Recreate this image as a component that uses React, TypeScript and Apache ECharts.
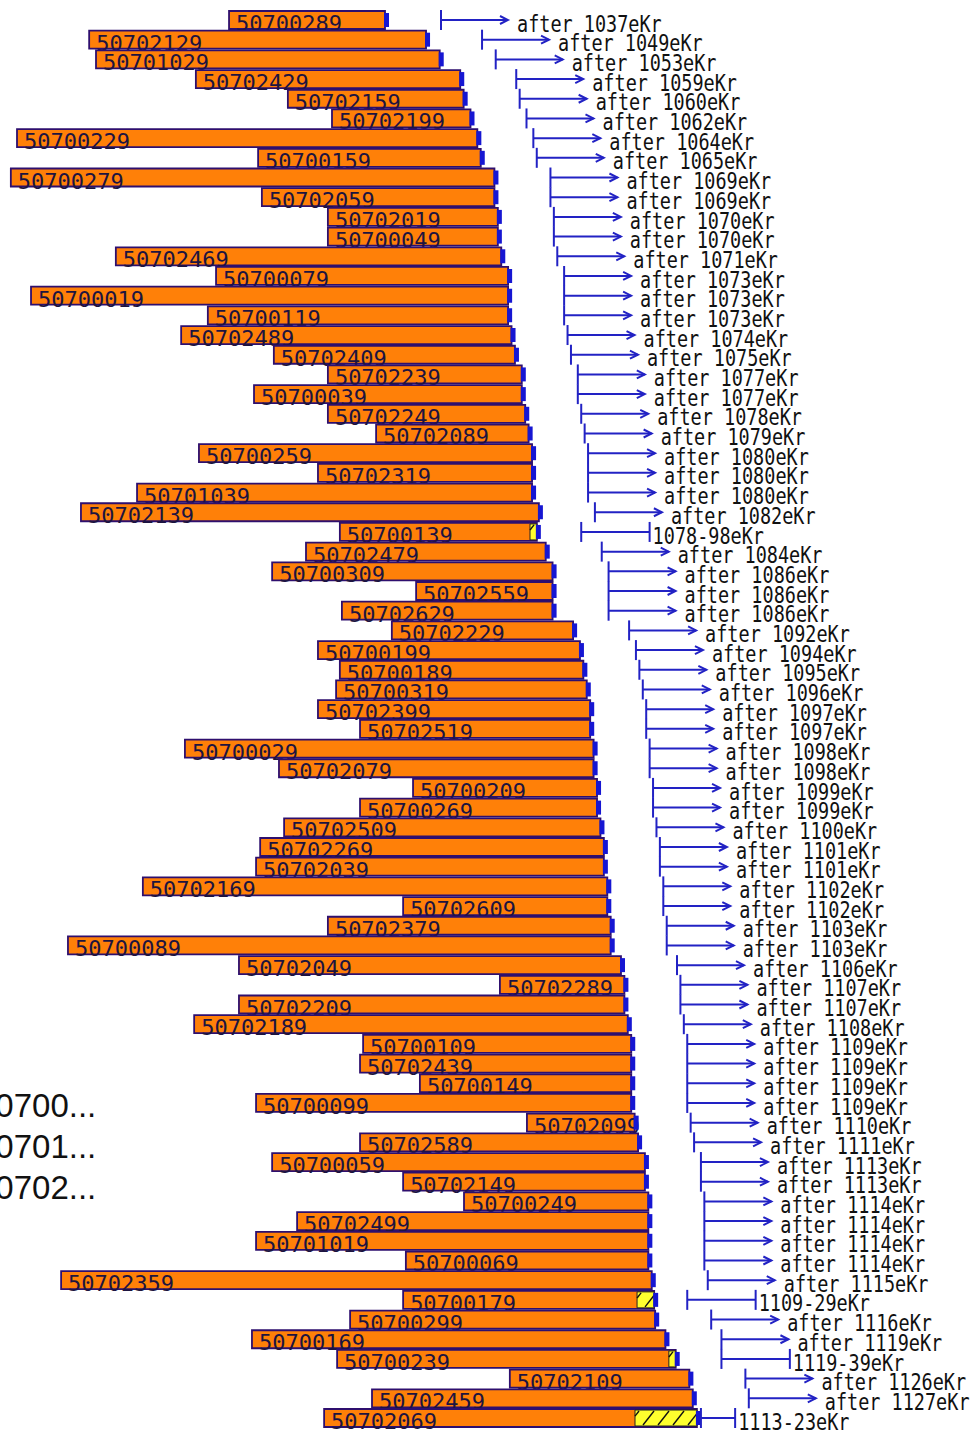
import React, { useEffect, useRef } from "react";
import * as echarts from "echarts";

// Row identifiers (top to bottom)
const rowLabels = [
  "50700289", "50702129", "50701029", "50702429", "50702159", "50702199", "50700229", "50700159", "50700279", "50702059",
  "50702019", "50700049", "50702469", "50700079", "50700019", "50700119", "50702489", "50702409", "50702239", "50700039",
  "50702249", "50702089", "50700259", "50702319", "50701039", "50702139", "50700139", "50702479", "50700309", "50702559",
  "50702629", "50702229", "50700199", "50700189", "50700319", "50702399", "50702519", "50700029", "50702079", "50700209",
  "50700269", "50702509", "50702269", "50702039", "50702169", "50702609", "50702379", "50700089", "50702049", "50702289",
  "50702209", "50702189", "50700109", "50702439", "50700149", "50700099", "50702099", "50702589", "50700059", "50702149",
  "50700249", "50702499", "50701019", "50700069", "50702359", "50700179", "50700299", "50700169", "50700239", "50702109",
  "50702459", "50702069",
];

// Bar start (same year scale as dates)
const barStart = [
  991.4, 950.5, 952.5, 981.7, 1008.6, 1021.5, 929.4, 999.9, 927.6, 1001,
  1020.3, 1020.3, 958.3, 987.6, 933.5, 985.2, 977.4, 1004.5, 1020.3, 998.7,
  1020.3, 1034.4, 982.6, 1017.4, 964.5, 948.1, 1023.8, 1013.9, 1004, 1046.1,
  1024.4, 1039, 1017.4, 1023.8, 1022.7, 1017.4, 1029.7, 978.5, 1006, 1045.2,
  1029.7, 1007.5, 1000.5, 999.3, 966.2, 1042.3, 1020.3, 944.3, 994.3, 1070.6,
  994.3, 981.2, 1030.6, 1029.7, 1047.2, 999.3, 1078.5, 1029.7, 1004, 1042.3,
  1060.1, 1011.3, 999.3, 1043.1, 942.3, 1042.3, 1026.8, 998.1, 1023, 1073.5,
  1033.2, 1019.2,
];

// Date (eKr) shown for each row: "after X" or start of a range
const dateFrom = [
  1037, 1049, 1053, 1059, 1060, 1062, 1064, 1065, 1069, 1069,
  1070, 1070, 1071, 1073, 1073, 1073, 1074, 1075, 1077, 1077,
  1078, 1079, 1080, 1080, 1080, 1082, 1078, 1084, 1086, 1086,
  1086, 1092, 1094, 1095, 1096, 1097, 1097, 1098, 1098, 1099,
  1099, 1100, 1101, 1101, 1102, 1102, 1103, 1103, 1106, 1107,
  1107, 1108, 1109, 1109, 1109, 1109, 1110, 1111, 1113, 1113,
  1114, 1114, 1114, 1114, 1115, 1109, 1116, 1119, 1119, 1126,
  1127, 1113,
];

// Rows with a date range instead of "after"
const rangeRows = [26, 65, 68, 71];
const rangeTo = [1098, 1129, 1139, 1123];
const hatchFrom = [1079.4, 1110.7, 1120, 1110.1];
const hatchTo = [1081.4, 1115.7, 1122, 1128.2];

// Partially visible legend entries
const legendItems = ["50700...", "50701...", "50702..."];

const X_MIN = 924.43;
const X_MAX = 1210.68;

const ORANGE = "#FF8008";
const BORDER = "#2E0F6E";
const BLUE = "#2222C4";
const BLOCK = "#1616D2";
const YELLOW = "#FFFF2E";

function buildData() {
  return rowLabels.map((_, i) => {
    const r = rangeRows.indexOf(i);
    const end = r >= 0 ? hatchTo[r] : dateFrom[i];
    return [
      i,
      barStart[i],
      end,
      r >= 0 ? hatchFrom[r] : NaN,
      dateFrom[i],
      r >= 0 ? rangeTo[r] : NaN,
    ];
  });
}

function renderItem(params: any, api: any) {
  const i = api.value(0);
  const yc = api.coord([X_MIN, i])[1];
  const x0 = api.coord([api.value(1), i])[0];
  const x1 = api.coord([api.value(2), i])[0];
  const hs = api.value(3);
  const d0 = api.value(4);
  const d1 = api.value(5);
  const yt = yc - 9;
  const yb = yc + 9;
  const children: any[] = [];

  children.push({
    type: "rect",
    shape: { x: x0, y: yt, width: x1 - x0, height: yb - yt },
    style: { fill: ORANGE, stroke: BORDER, lineWidth: 1.8 },
  });

  if (!isNaN(hs)) {
    const hx0 = api.coord([hs, i])[0];
    children.push({
      type: "rect",
      shape: { x: hx0, y: yt + 1, width: x1 - hx0, height: yb - yt - 2 },
      style: { fill: YELLOW, stroke: "#222", lineWidth: 1 },
    });
    const ht = yt + 2;
    const hb = yb - 2;
    const dx = 11;
    for (let k = hx0 - dx + 4; k < x1; k += 15) {
      const tmin = Math.max(0, (hx0 - k) / dx);
      const tmax = Math.min(1, (x1 - k) / dx);
      if (tmin < tmax) {
        children.push({
          type: "line",
          shape: {
            x1: k + dx * tmin,
            y1: hb + (ht - hb) * tmin,
            x2: k + dx * tmax,
            y2: hb + (ht - hb) * tmax,
          },
          style: { stroke: "#111", lineWidth: 1.4 },
        });
      }
    }
  }

  children.push({
    type: "text",
    x: x0 + 7,
    y: yc + 3.5,
    style: {
      text: rowLabels[i],
      fontFamily: "DejaVu Sans Mono",
      fontSize: 22,
      fill: "#1d1440",
      verticalAlign: "middle",
      align: "left",
    },
  });

  children.push({
    type: "rect",
    shape: { x: x1 - 1, y: yc - 7, width: 5, height: 14 },
    style: { fill: BLOCK },
  });

  const tx = api.coord([d0, i])[0] + 56;
  children.push({
    type: "line",
    shape: { x1: tx, y1: yc - 10, x2: tx, y2: yc + 10 },
    style: { stroke: BLUE, lineWidth: 2 },
  });

  let textX: number;
  let text: string;
  if (isNaN(d1)) {
    const ax = tx + 67;
    children.push({
      type: "line",
      shape: { x1: tx, y1: yc, x2: ax, y2: yc },
      style: { stroke: BLUE, lineWidth: 2 },
    });
    children.push({
      type: "polyline",
      shape: { points: [[ax - 8, yc - 4], [ax, yc], [ax - 8, yc + 4]] },
      style: { stroke: BLUE, lineWidth: 2, fill: null },
    });
    textX = tx + 76;
    text = "after " + d0 + "eKr";
  } else {
    const tx2 = api.coord([d1, i])[0] + 56;
    children.push({
      type: "line",
      shape: { x1: tx, y1: yc, x2: tx2, y2: yc },
      style: { stroke: BLUE, lineWidth: 2 },
    });
    children.push({
      type: "line",
      shape: { x1: tx2, y1: yc - 10, x2: tx2, y2: yc + 10 },
      style: { stroke: BLUE, lineWidth: 2 },
    });
    textX = tx2 + 3;
    text = d0 + "-" + String(d1 % 100).padStart(2, "0") + "eKr";
  }

  children.push({
    type: "text",
    x: textX,
    y: yc + 4,
    scaleY: 1.2,
    style: {
      text,
      fontFamily: "DejaVu Sans Mono",
      fontSize: 18.5,
      fill: "#111",
      verticalAlign: "middle",
      align: "left",
    },
  });

  return { type: "group", children };
}

export default function App() {
  const ref = useRef<HTMLDivElement>(null);

  useEffect(() => {
    if (!ref.current) return;
    const chart = echarts.init(ref.current, undefined, { renderer: "svg" });
    const legendY = [1107, 1148, 1189];
    chart.setOption({
      animation: false,
      backgroundColor: "#ffffff",
      grid: { left: 0, right: 0, top: 10.15, bottom: 2.15 },
      xAxis: { type: "value", min: X_MIN, max: X_MAX, show: false },
      yAxis: { type: "category", data: rowLabels, inverse: true, show: false },
      series: [
        {
          type: "custom",
          renderItem,
          data: buildData(),
          encode: { x: [1, 2], y: 0 },
          clip: false,
        },
      ],
      graphic: legendItems.map((t, k) => ({
        type: "text",
        left: -23,
        top: legendY[k] - 18,
        style: {
          text: t,
          fontFamily: "Liberation Sans",
          fontSize: 33,
          fill: "#111",
        },
      })),
    });
    return () => chart.dispose();
  }, []);

  return (
    <div
      ref={ref}
      style={{ position: "absolute", left: 0, top: 0, width: 979, height: 1430 }}
    />
  );
}
